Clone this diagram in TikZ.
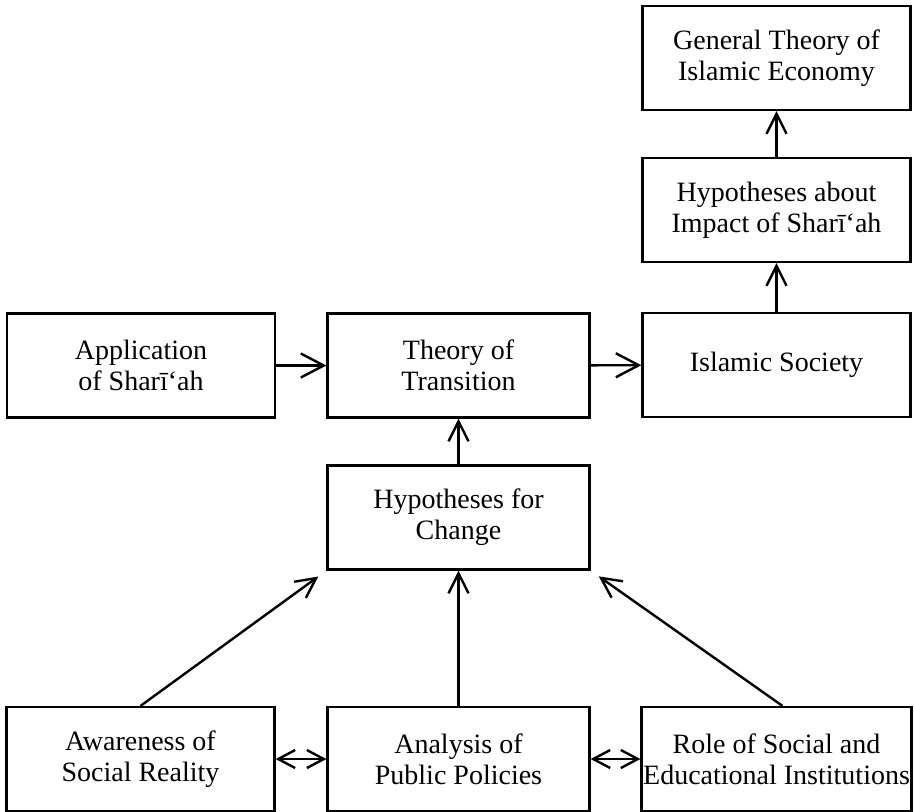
\documentclass[tikz,border=0pt]{standalone}
\usepackage{fontspec}
\setmainfont{Liberation Serif}
\usetikzlibrary{arrows.meta}
\tikzset{box/.style={draw, line width=1.1pt, minimum width=134pt, minimum height=52pt, inner sep=0pt, align=center, font=\fontsize{14}{15.5}\selectfont},
arr/.style={-{Straight Barb[length=10pt,width=10pt,line width=1.2pt]}, line width=1.2pt},
bigarr/.style={-{Straight Barb[length=11.5pt,width=12pt,line width=1.2pt]}, line width=1.2pt},
dblarr/.style={{Straight Barb[length=8.5pt,width=9pt,line width=1.2pt]}-{Straight Barb[length=8.5pt,width=9pt,line width=1.2pt]}, line width=1.2pt}}
\begin{document}
\begin{tikzpicture}[x=0.5pt,y=-0.5pt]
\useasboundingbox (0,0) rectangle (914,811);
\node [box] (general) at (776.5, 58) {General Theory of\\Islamic Economy};
\node [box] (impact) at (776.5, 210) {Hypotheses about\\Impact of Sharī‘ah};
\node [box] (society) at (776.5, 365) {Islamic Society};
\node [box, minimum width=131pt] (theory) at (458.5, 365.5) {Theory of\\Transition};
\node [box] (application) at (141, 365.5) {Application\\of Sharī‘ah};
\node [box, minimum width=131pt] (change) at (458.5, 517.5) {Hypotheses for\\Change};
\node [box] (awareness) at (140.5, 759) {Awareness of\\Social Reality};
\node [box, minimum width=131pt] (analysis) at (458.5, 759) {Analysis of\\Public Policies};
\node [box, minimum width=135pt] (role) at (776.5, 759) {Role of Social and\\Educational Institutions};
\draw [arr] (impact) to (general);
\draw [arr] (society) to (impact);
\draw [bigarr] (application) to (theory);
\draw [bigarr] (theory) to (society);
\draw [arr] (change) to (theory);
\draw [arr] (analysis) to (change);
\draw [arr, shorten >=5pt] (awareness.north) to (change.south west);
\draw [arr, shorten >=5pt] ([xshift=3pt]role.north) to (change.south east);
\draw [dblarr] (awareness) to (analysis);
\draw [dblarr] (analysis) to (role);
\end{tikzpicture}
\end{document}
